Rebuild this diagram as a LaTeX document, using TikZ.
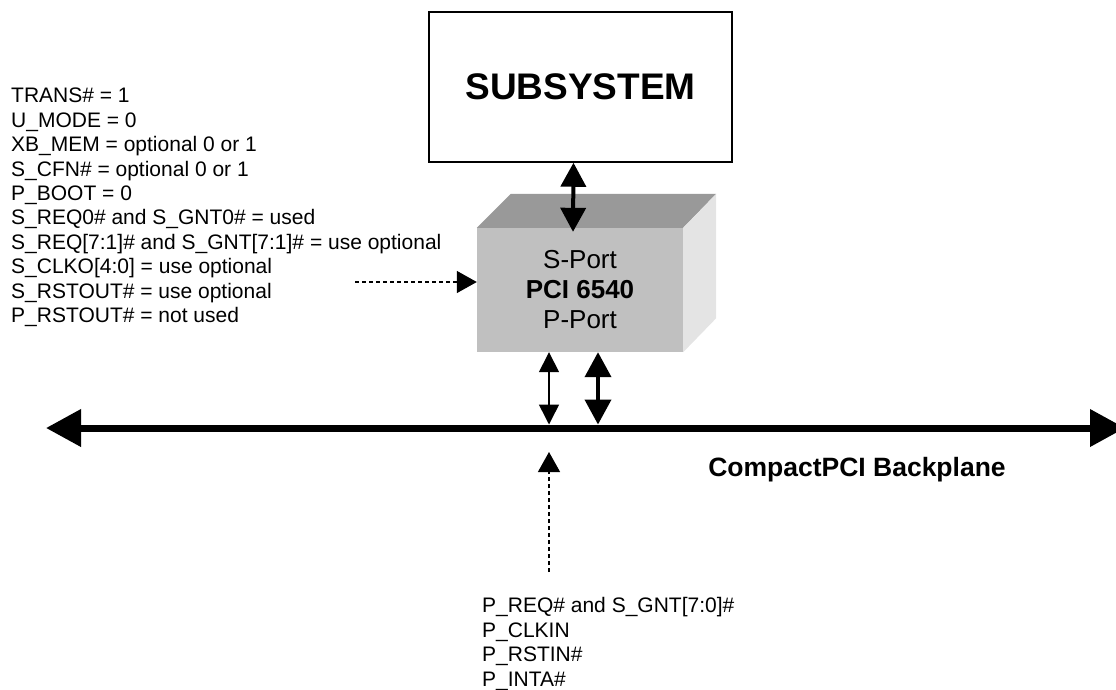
\documentclass[tikz,border=0pt]{standalone}
\usepackage{fontspec}
\setmainfont{Liberation Sans}
\usetikzlibrary{arrows.meta,calc}
\definecolor{cubefront}{HTML}{C0C0C0}
\definecolor{cubetop}{HTML}{999999}
\definecolor{cubeside}{HTML}{E4E4E4}
\begin{document}
\begin{tikzpicture}[x=1pt,y=-1pt,
  lst/.style={font=\fontsize{21}{24.4}\selectfont, align=left, inner sep=0pt, anchor=north west},
  bigtip/.style={line width=7pt, {Triangle[length=35pt,width=36pt]}-{Triangle[length=35pt,width=36pt]}},
  thicktip/.style={line width=4pt, {Triangle[length=24pt,width=25pt]}-{Triangle[length=24pt,width=25pt]}},
  thintip/.style={line width=1.5pt, {Triangle[length=20pt,width=20pt]}-{Triangle[length=20pt,width=20pt]}},
  dasharrow/.style={line width=1.3pt, dash pattern=on 4pt off 3pt, -{Triangle[length=20pt,width=22pt]}}
]
\useasboundingbox (0,0) rectangle (1116,689);

% subsystem
\node[draw, line width=1.5pt, minimum width=303pt, minimum height=150pt, inner sep=0pt,
      font=\fontsize{37}{42}\selectfont\bfseries] (sub) at (580.5,87) {SUBSYSTEM};

% cube
\node[fill=cubefront, minimum width=206pt, minimum height=124pt, inner sep=0pt, align=center,
      font=\fontsize{26}{30}\selectfont] (chip) at (580,290) {S-Port\\\textbf{PCI 6540}\\P-Port};
\fill[cubetop] (chip.north west) -- ++(34,-34) -- ($(chip.north east)+(33,-34)$) -- (chip.north east) -- cycle;
\fill[cubeside] (chip.north east) -- ++(33,-34) -- ($(chip.south east)+(33,-34)$) -- (chip.south east) -- cycle;

% bus
\coordinate (busL) at (46,428);
\coordinate (busR) at (1125,428);
\draw[bigtip] (busL) -- (busR);
\coordinate (bustop) at (46,424.5);

% subsystem <-> chip
\draw[thicktip] ([xshift=-7pt]sub.south) -- ([xshift=-7pt,yshift=-4pt]chip.north);

% chip <-> bus
\draw[thintip] ([xshift=-31pt]chip.south) -- ([xshift=-31pt]chip.south |- bustop);
\draw[line width=4pt, {Triangle[length=25pt,width=26pt]}-{Triangle[length=25pt,width=26pt]}]
  ([xshift=18pt]chip.south) -- ([xshift=18pt]chip.south |- bustop);

% left list
\node[lst] (cfg) at (11,88) {TRANS\# = 1\\U\_MODE = 0\\XB\_MEM = optional 0 or 1\\S\_CFN\# = optional 0 or 1\\P\_BOOT = 0\\S\_REQ0\# and S\_GNT0\# = used\\S\_REQ[7:1]\# and S\_GNT[7:1]\# = use optional\\S\_CLKO[4:0] = use optional\\S\_RSTOUT\# = use optional\\P\_RSTOUT\# = not used};
\coordinate (dl) at (355,282);
\draw[dasharrow] (dl) -- (chip.west |- dl);

% bottom list
\node[lst] (sig) at (482,597.5) {P\_REQ\# and S\_GNT[7:0]\#\\P\_CLKIN\\P\_RSTIN\#\\P\_INTA\#};
\coordinate (du) at (549,572);
\draw[dasharrow] (du) -- (549,452);

% label
\node[font=\fontsize{26.5}{30}\selectfont\bfseries, inner sep=0pt] (bp) at (857,470) {CompactPCI Backplane};
\end{tikzpicture}
\end{document}
